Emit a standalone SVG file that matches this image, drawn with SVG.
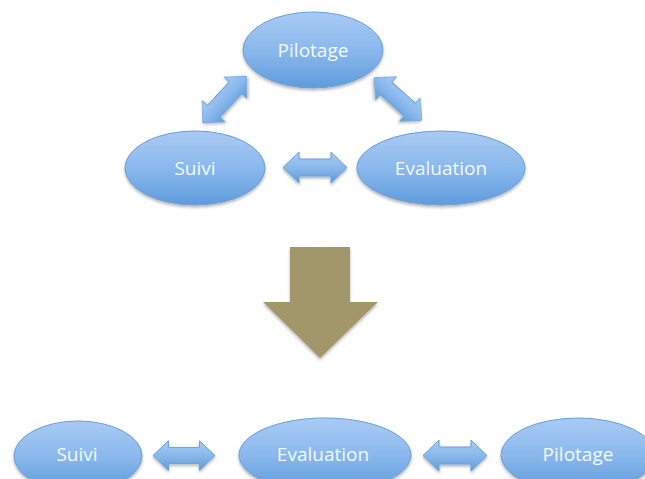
<svg xmlns="http://www.w3.org/2000/svg" width="645" height="479" viewBox="0 0 645 479">
<defs>
<linearGradient id="bg" x1="0" y1="0" x2="0" y2="1">
<stop offset="0" stop-color="#a9cbf3"/>
<stop offset="0.5" stop-color="#8ab8ec"/>
<stop offset="1" stop-color="#5e9cdc"/>
</linearGradient>
<filter id="sh" x="-20%" y="-20%" width="140%" height="150%">
<feDropShadow dx="0" dy="2" stdDeviation="1.8" flood-color="#000" flood-opacity="0.3"/>
</filter>
<path id="dbl" d="M-32,0 L-16,-15.5 L-16,-8.5 L16,-8.5 L16,-15.5 L32,0 L16,15.5 L16,8.5 L-16,8.5 L-16,15.5 Z"/>
</defs>
<style>
.n{fill:url(#bg);stroke:#6a9fd8;stroke-width:1;filter:url(#sh)}
.t{font-family:"Open Sans","Noto Sans",sans-serif;font-size:19px;fill:#f4f8fd;text-anchor:middle}
.a{fill:url(#bg);stroke:#6a9fd8;stroke-width:1;filter:url(#sh)}
</style>
<rect width="645" height="479" fill="#ffffff"/>
<g id="connectors">
<use href="#dbl" class="a" transform="translate(224.5,99.5) rotate(-47)"/>
<use href="#dbl" class="a" transform="translate(398,99) rotate(42)"/>
<use href="#dbl" class="a" transform="translate(315,167.5)"/>
<use href="#dbl" class="a" transform="translate(184,455.5) scale(0.97,0.95)"/>
<use href="#dbl" class="a" transform="translate(455,455.5)"/>
<path d="M290,247 L350,247 L350,302 L378,302 L320,358 L263,302 L290,302 Z" fill="#a1976b" filter="url(#sh)"/>
</g>
<g id="n-pilotage-top">
<ellipse class="n" cx="313" cy="50" rx="70" ry="38"/>
<text class="t" x="313" y="57">Pilotage</text>
</g>
<g id="n-suivi-top">
<ellipse class="n" cx="195" cy="168" rx="70" ry="37"/>
<text class="t" x="195" y="175">Suivi</text>
</g>
<g id="n-evaluation-top">
<ellipse class="n" cx="441" cy="168" rx="84" ry="37"/>
<text class="t" x="441" y="175">Evaluation</text>
</g>
<g id="n-suivi-bottom">
<ellipse class="n" cx="78" cy="456" rx="64" ry="35"/>
<text class="t" x="77" y="461">Suivi</text>
</g>
<g id="n-evaluation-bottom">
<ellipse class="n" cx="325" cy="455" rx="86" ry="37"/>
<text class="t" x="323" y="461">Evaluation</text>
</g>
<g id="n-pilotage-bottom">
<ellipse class="n" cx="578" cy="455" rx="77" ry="37"/>
<text class="t" x="578" y="461">Pilotage</text>
</g>
</svg>
